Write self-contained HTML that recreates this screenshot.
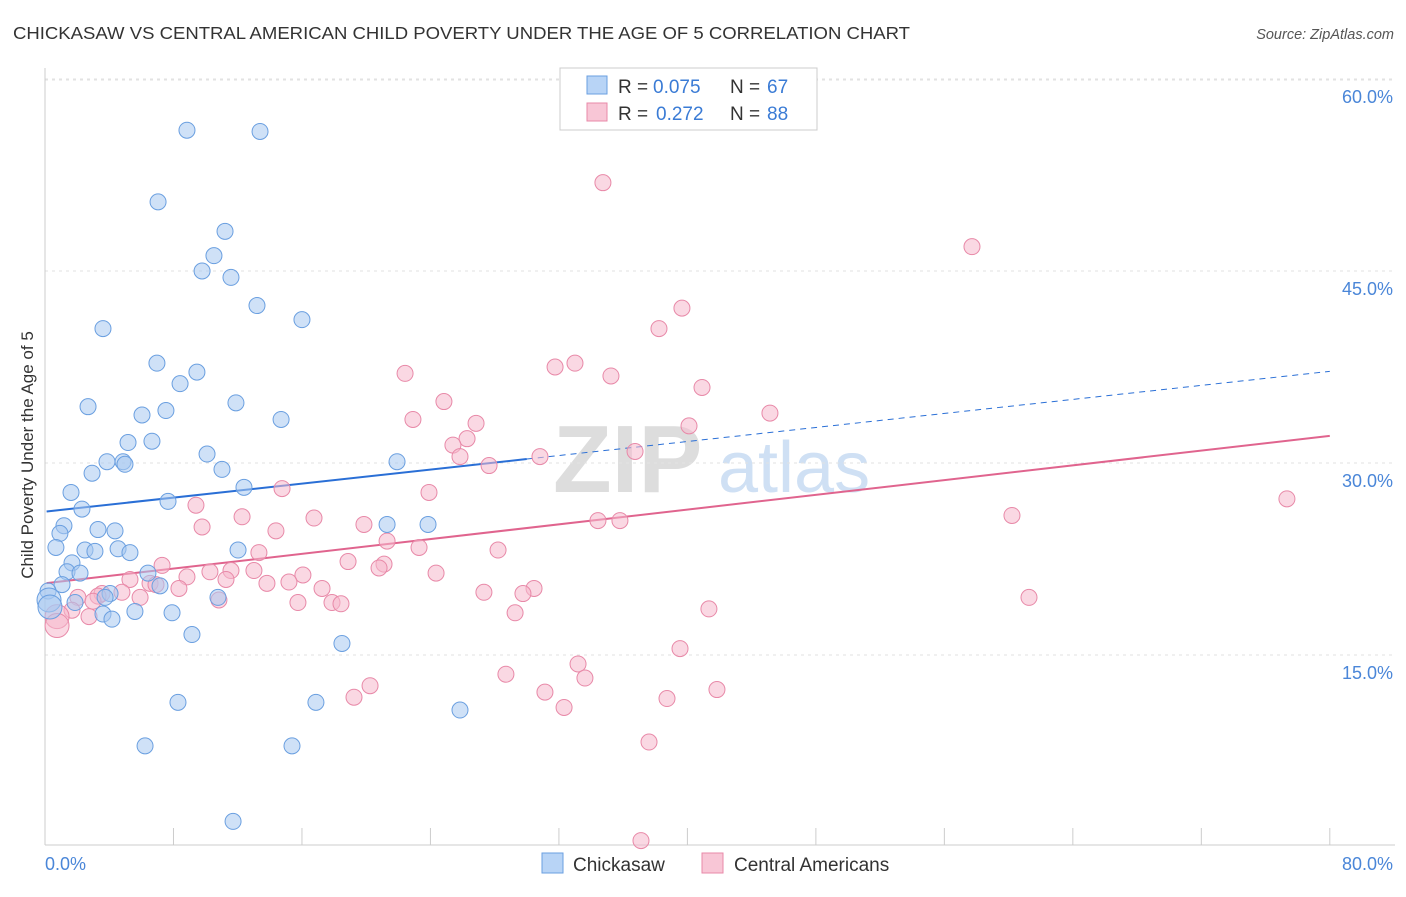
<!DOCTYPE html>
<html><head><meta charset="utf-8"><style>
body{margin:0;background:#fff;font-family:"Liberation Sans",sans-serif;}
svg text{font-family:"Liberation Sans",sans-serif;}
</style></head><body>
<svg id="chart" width="1406" height="892" xmlns="http://www.w3.org/2000/svg">
<text x="13" y="39" font-size="17.5" fill="#333" textLength="897" lengthAdjust="spacingAndGlyphs">CHICKASAW VS CENTRAL AMERICAN CHILD POVERTY UNDER THE AGE OF 5 CORRELATION CHART</text>
<text x="1394" y="39" font-size="14.5" fill="#555" text-anchor="end" font-style="italic">Source: ZipAtlas.com</text>
<g>
<text x="553" y="492" font-size="96" font-family="Liberation Serif" fill="#ddd" font-weight="bold">ZIP</text>
<text x="718" y="492" font-size="72" fill="#cfe0f4">atlas</text>
</g>
<g id="grid"></g>
<g id="axes"></g>
<g id="lines"></g>
<g id="pts"></g>
<text transform="translate(33,455) rotate(-90)" font-size="17" fill="#333" text-anchor="middle">Child Poverty Under the Age of 5</text>
<g>
<rect x="560" y="68" width="257" height="62" fill="#fff" stroke="#ccc"/>
<rect x="587" y="76" width="20" height="18" fill="#b8d4f6" stroke="#6a9fe0"/>
<rect x="587" y="103" width="20" height="18" fill="#f8c6d6" stroke="#e889a8"/>
<text x="618" y="93" font-size="19" fill="#333">R =</text>
<text x="653" y="93" font-size="19" fill="#3a7bd5">0.075</text>
<text x="730" y="93" font-size="19" fill="#333">N =</text>
<text x="767" y="93" font-size="19" fill="#3a7bd5">67</text>
<text x="618" y="120" font-size="19" fill="#333">R =</text>
<text x="656" y="120" font-size="19" fill="#3a7bd5">0.272</text>
<text x="730" y="120" font-size="19" fill="#333">N =</text>
<text x="767" y="120" font-size="19" fill="#3a7bd5">88</text>
</g>
<g>
<rect x="542" y="853" width="21" height="20" fill="#b8d4f6" stroke="#6a9fe0"/>
<text x="573" y="871" font-size="19" fill="#333">Chickasaw</text>
<rect x="702" y="853" width="21" height="20" fill="#f8c6d6" stroke="#e889a8"/>
<text x="734" y="871" font-size="19" fill="#333">Central Americans</text>
</g>
</svg>
<script>
const yTicks=[15,30,45,60];
const yTickLabels=["15.0%","30.0%","45.0%","60.0%"];
const xTickLabels=["0.0%","80.0%"];
const blueX=[8.84,13.39,7.04,11.21,10.52,9.78,11.58,13.2,16.0,3.61,6.97,9.46,8.41,2.68,7.53,6.04,11.89,14.7,5.17,6.66,10.09,3.86,4.86,4.98,11.02,21.92,2.93,1.62,12.39,7.66,2.30,1.18,3.30,0.93,21.3,23.85,4.36,0.68,2.49,3.11,4.55,5.29,12.02,1.68,1.37,2.18,6.41,7.16,1.06,0.19,0.25,1.87,4.05,3.74,10.77,0.31,5.6,3.61,7.91,4.17,9.15,18.49,8.28,16.87,25.84,6.23,15.38,11.71];
const blueY=[56.0,55.9,50.4,48.1,46.2,45.0,44.5,42.3,41.2,40.5,37.8,37.1,36.2,34.4,34.1,33.75,34.7,33.4,31.6,31.7,30.7,30.1,30.1,29.9,29.5,30.1,29.2,27.7,28.1,27.0,26.4,25.1,24.8,24.5,25.2,25.2,24.7,23.4,23.2,23.1,23.3,23.0,23.2,22.2,21.5,21.4,21.4,20.4,20.5,20.0,19.3,19.1,19.8,19.5,19.5,18.75,18.4,18.2,18.3,17.8,16.6,15.9,11.3,11.3,10.7,7.9,7.9,2.0];
const pinkX=[34.74,57.72,39.66,38.23,31.76,33.0,22.42,35.24,40.91,24.84,45.14,22.91,26.84,26.28,25.4,40.1,25.84,30.82,36.74,27.65,23.91,14.76,9.4,77.33,12.27,9.78,16.75,14.38,19.86,34.43,35.8,60.21,21.3,23.29,28.21,13.32,18.87,21.11,20.8,7.29,16.06,10.27,11.58,24.35,13.01,5.29,8.84,11.27,6.54,15.19,17.25,13.82,8.34,30.45,29.76,27.33,6.91,4.79,3.55,3.3,2.05,2.99,5.92,15.75,17.87,18.43,10.83,61.27,41.34,29.27,2.74,1.68,0.75,0.75,39.54,33.19,33.62,28.7,20.24,41.84,31.13,38.73,19.24,32.32,37.61,37.11];
const pinkY=[51.9,46.9,42.1,40.5,37.5,37.8,37.0,36.8,35.9,34.8,33.9,33.4,33.1,31.9,31.4,32.9,30.5,30.5,30.9,29.8,27.7,28.0,26.7,27.2,25.8,25.0,25.7,24.7,25.2,25.5,25.5,25.9,23.9,23.4,23.2,23.0,22.3,22.1,21.8,22.0,21.25,21.5,21.6,21.4,21.6,20.9,21.1,20.9,20.6,20.7,20.2,20.6,20.2,20.2,19.8,19.9,20.5,19.9,19.8,19.6,19.5,19.2,19.5,19.1,19.1,19.0,19.3,19.5,18.6,18.3,18.0,18.5,18.0,17.3,15.5,14.3,13.2,13.5,12.6,12.3,12.1,11.6,11.7,10.9,8.2,0.5];
const blueTrend=[26.2,0.137]; // intercept, slope
const blueSolidEnd=30;
const pinkTrend=[20.6,0.144];
const NS="http://www.w3.org/2000/svg";
const xs=v=>45+v*16.06, ys=v=>847-v*12.8;
function mk(tag,a,parent){const e=document.createElementNS(NS,tag);for(const k in a)e.setAttribute(k,a[k]);document.getElementById(parent).appendChild(e);return e;}
yTicks.forEach((t,i)=>{
 const g=mk('line',{x1:45,x2:1395,y1:ys(t),y2:ys(t),stroke:'#e2e2e2','stroke-dasharray':'3,4'},'grid');
 
 
 const l=mk('text',{x:1393,y:ys(t)+24,'font-size':18,fill:'#4a86d8','text-anchor':'end'},'axes');
 l.textContent=yTickLabels[i];
 
 
});
mk('line',{x1:45,x2:1395,y1:80,y2:80,stroke:'#e2e2e2','stroke-dasharray':'3,4'},'grid');
mk('line',{x1:45,x2:45,y1:68,y2:845,stroke:'#ccc'},'axes');
mk('line',{x1:45,x2:1395,y1:845,y2:845,stroke:'#ccc'},'axes');
for(let i=1;i<=10;i++){const x=xs(i*8);mk('line',{x1:x,x2:x,y1:828,y2:845,stroke:'#ccc'},'axes');}
const xl0=mk('text',{x:45,y:870,'font-size':18,fill:'#4a86d8'},'axes');xl0.textContent=xTickLabels[0];


const xl1=mk('text',{x:1393,y:870,'font-size':18,fill:'#4a86d8','text-anchor':'end'},'axes');xl1.textContent=xTickLabels[1];


function drawPts(X,Y,fill,stroke,name){X.forEach((x,i)=>{
 const c=mk('circle',{cx:xs(x),cy:ys(Y[i]),r:(x<1.2&&Y[i]<20)?12:8,fill:fill,'fill-opacity':0.55,stroke:stroke,'stroke-width':1},'pts');
 
 
});}
drawPts(pinkX,pinkY,'#f5b8cc','#e889a8','central-american-point');
drawPts(blueX,blueY,'#a8c8f0','#6a9fe0','chickasaw-point');
const bt=v=>blueTrend[0]+blueTrend[1]*v, pt=v=>pinkTrend[0]+pinkTrend[1]*v;
const b1=mk('line',{x1:xs(0.1),y1:ys(bt(0.1)),x2:xs(blueSolidEnd),y2:ys(bt(blueSolidEnd)),stroke:'#2a6fd6','stroke-width':2},'lines');


const b2=mk('line',{x1:xs(blueSolidEnd),y1:ys(bt(blueSolidEnd)),x2:xs(80),y2:ys(bt(80)),stroke:'#2a6fd6','stroke-width':1,'stroke-dasharray':'6,5'},'lines');


const p1=mk('line',{x1:xs(0.1),y1:ys(pt(0.1)),x2:xs(80),y2:ys(pt(80)),stroke:'#e0648e','stroke-width':2},'lines');


</script>
</body></html>
